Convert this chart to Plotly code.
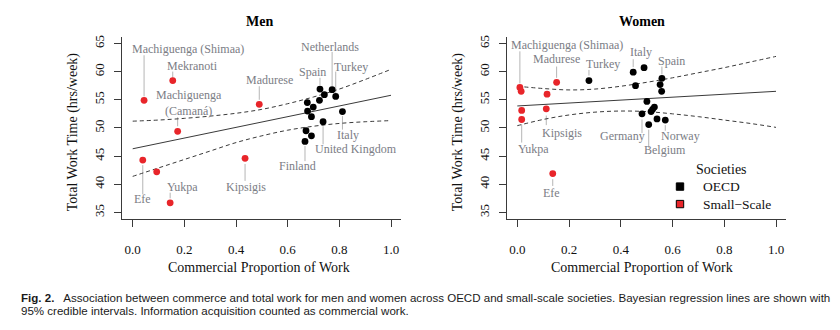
import plotly.graph_objects as go

# ---------------- data ----------------
grid_x = [0.0, 0.1, 0.2, 0.3, 0.4, 0.5, 0.6, 0.7, 0.8, 0.9, 1.0]
tick_x = [0.0, 0.2, 0.4, 0.6, 0.8, 1.0]
tick_x_text = ["0.0", "0.2", "0.4", "0.6", "0.8", "1.0"]
tick_y = [35, 40, 45, 50, 55, 60, 65]

# Men
men_small_x = [0.044, 0.155, 0.174, 0.490, 0.039, 0.093, 0.145, 0.435]
men_small_y = [54.9, 58.4, 49.4, 54.2, 44.3, 42.2, 36.7, 44.6]
men_oecd_x = [0.725, 0.772, 0.742, 0.786, 0.723, 0.676, 0.699, 0.677, 0.812, 0.692, 0.737, 0.671, 0.692, 0.667]
men_oecd_y = [56.9, 56.8, 55.9, 55.6, 54.9, 54.5, 53.7, 53.0, 52.9, 52.0, 51.1, 49.5, 48.6, 47.6]
men_mean = [46.3, 47.25, 48.2, 49.15, 50.1, 51.05, 52.0, 52.95, 53.9, 54.85, 55.8]
men_upper = [51.2, 51.4, 51.7, 52.1, 52.6, 53.3, 54.3, 55.5, 56.9, 58.6, 60.4]
men_lower = [41.4, 42.9, 44.4, 45.9, 47.4, 48.6, 49.6, 50.3, 50.8, 51.1, 51.3]

men_labels = ["Machiguenga (Shimaa)", "Mekranoti", "Machiguenga<br>(Camaná)", "Madurese", "Efe",
              "Yukpa", "Kipsigis", "Netherlands", "Spain", "Turkey", "Italy", "United Kingdom", "Finland"]
men_label_x = [0.215, 0.230, 0.218, 0.528, 0.037, 0.191, 0.437, 0.765, 0.697, 0.844, 0.834, 0.865, 0.639]
men_label_y = [64.1, 61.06, 54.4, 58.5, 37.3, 39.6, 39.6, 64.3, 60.0, 60.9, 48.8, 46.3, 43.2]
men_lead_x = [0.044, 0.155, 0.174, 0.490, 0.039, 0.145, 0.435, 0.772, 0.725, 0.786, 0.812, 0.737, 0.667]
men_lead_y0 = [62.9, 60.0, 51.9, 57.4, 43.4, 38.5, 43.6, 63.5, 58.9, 60.0, 52.1, 50.3, 46.8]
men_lead_y1 = [55.6, 58.9, 50.3, 55.0, 38.2, 37.5, 40.6, 57.4, 57.6, 56.2, 49.7, 47.1, 44.1]

# Women
women_small_x = [0.010, 0.015, 0.152, 0.115, 0.017, 0.112, 0.017, 0.137]
women_small_y = [57.2, 56.5, 58.1, 56.0, 53.1, 53.4, 51.5, 41.9]
women_oecd_x = [0.277, 0.448, 0.490, 0.457, 0.559, 0.552, 0.558, 0.501, 0.530, 0.523, 0.517, 0.482, 0.540, 0.508, 0.572]
women_oecd_y = [58.4, 59.9, 60.7, 57.5, 58.8, 57.7, 56.5, 54.7, 53.7, 53.3, 52.9, 52.5, 51.6, 50.6, 51.4]
women_mean = [53.9, 54.16, 54.42, 54.68, 54.94, 55.2, 55.46, 55.72, 55.98, 56.24, 56.5]
women_upper = [57.4, 57.0, 56.75, 56.9, 57.4, 58.1, 58.9, 59.8, 60.7, 61.7, 62.7]
women_lower = [50.4, 51.5, 52.3, 52.8, 53.0, 52.9, 52.5, 52.0, 51.4, 50.8, 50.1]

women_labels = ["Machiguenga (Shimaa)", "Madurese", "Turkey", "Italy", "Spain", "Kipsigis",
                "Yukpa", "Efe", "Germany", "Belgium", "Norway"]
women_label_x = [0.191, 0.151, 0.330, 0.478, 0.597, 0.174, 0.062, 0.133, 0.406, 0.571, 0.631]
women_label_y = [64.7, 62.2, 61.4, 63.4, 61.9, 49.1, 46.2, 38.5, 48.6, 46.0, 48.6]
women_lead_x = [0.010, 0.152, 0.277, 0.448, 0.559, 0.112, 0.017, 0.137, 0.482, 0.508, 0.572]
women_lead_y0 = [63.6, 60.9, 60.3, 62.2, 60.9, 52.2, 50.6, 40.9, 51.5, 49.7, 50.5]
women_lead_y1 = [57.9, 58.9, 59.3, 60.8, 59.5, 50.5, 47.4, 39.7, 49.1, 46.5, 49.5]

legend_title = "Societies"
legend_names = ["OECD", "Small\u2212Scale"]
legend_colors = ["#000000", "#E8252A"]

# ---------------- styling ----------------
W, H = 840, 330
SERIF = "Liberation Serif, Times New Roman, serif"
RED = "#E8252A"
LABEL_GRAY = "#7b7d85"
LEAD_GRAY = "#b5b5b5"
LINE_COL = "#3a3a3a"

fig = go.Figure()

panels = [
    ("x", "y", men_small_x, men_small_y, men_oecd_x, men_oecd_y, men_mean, men_upper, men_lower),
    ("x2", "y2", women_small_x, women_small_y, women_oecd_x, women_oecd_y, women_mean, women_upper, women_lower),
]
for xa, ya, sx, sy, ox, oy, mean, up, lo in panels:
    fig.add_trace(go.Scatter(x=grid_x, y=mean, mode="lines", xaxis=xa, yaxis=ya,
                             line=dict(color=LINE_COL, width=1), showlegend=False, hoverinfo="skip"))
    for band in (up, lo):
        fig.add_trace(go.Scatter(x=grid_x, y=band, mode="lines", xaxis=xa, yaxis=ya,
                                 line=dict(color=LINE_COL, width=1, dash="4px,3px", shape="spline"),
                                 showlegend=False, hoverinfo="skip"))
    fig.add_trace(go.Scatter(x=ox, y=oy, mode="markers", xaxis=xa, yaxis=ya,
                             marker=dict(color="#000000", size=6.8, line=dict(width=0)),
                             showlegend=False, name="OECD"))
    fig.add_trace(go.Scatter(x=sx, y=sy, mode="markers", xaxis=xa, yaxis=ya,
                             marker=dict(color=RED, size=6.8, line=dict(width=0)),
                             showlegend=False, name="Small-Scale"))

shapes = []
annotations = []
for xref, yref, labels, lx, ly, ldx, ly0, ly1 in [
    ("x", "y", men_labels, men_label_x, men_label_y, men_lead_x, men_lead_y0, men_lead_y1),
    ("x2", "y2", women_labels, women_label_x, women_label_y, women_lead_x, women_lead_y0, women_lead_y1),
]:
    for t, x, y in zip(labels, lx, ly):
        annotations.append(dict(text=t, x=x, y=y, xref=xref, yref=yref, showarrow=False,
                                xanchor="center", yanchor="middle",
                                font=dict(family=SERIF, size=12, color=LABEL_GRAY)))
    for x, y0, y1 in zip(ldx, ly0, ly1):
        shapes.append(dict(type="line", xref=xref, yref=yref, x0=x, x1=x, y0=y0, y1=y1,
                           line=dict(color=LEAD_GRAY, width=1), layer="below"))


def paper(px, py):
    return px / W, 1 - py / H


def text_at(txt, px, py, size, color="#111", family=SERIF, angle=0, xanchor="center"):
    x, y = paper(px, py)
    annotations.append(dict(text=txt, x=x, y=y, xref="paper", yref="paper", showarrow=False,
                            xanchor=xanchor, yanchor="middle", textangle=angle,
                            font=dict(family=family, size=size, color=color)))


# titles
text_at("<b>Men</b>", 259, 19.5, 14, "#000")
text_at("<b>Women</b>", 642, 19.5, 14, "#000")
for px in (259, 641.7):
    text_at("Commercial Proportion of Work", px, 267, 14)
for px in (73.3, 458.3):
    text_at("Total Work Time (hrs/week)", px, 130.7, 14, angle=-90)

# manual legend
text_at(legend_title, 721, 168.3, 14)
for i, (name, col) in enumerate(zip(legend_names, legend_colors)):
    cy = 185.7 + i * 17.6
    shapes.append(dict(type="rect", xref="paper", yref="paper",
                       x0=(680 - 3.7) / W, x1=(680 + 3.7) / W,
                       y0=1 - (cy + 3.7) / H, y1=1 - (cy - 3.7) / H,
                       fillcolor=col, line=dict(color="#000", width=1)))
    text_at(name, 700.5, cy, 13.5, xanchor="left")

# caption
cap1 = ("<b>Fig. 2.</b>\u00a0\u00a0 Association between commerce and total work for men and women across OECD "
        "and small-scale societies. Bayesian regression lines are shown with")
cap2 = "95% credible intervals. Information acquisition counted as commercial work."
text_at(cap1, 19, 297.5, 11.55, "#1a1a1a", "Liberation Sans, Arial, sans-serif", xanchor="left")
text_at(cap2, 19, 311, 11.55, "#1a1a1a", "Liberation Sans, Arial, sans-serif", xanchor="left")

axis_common = dict(showgrid=False, zeroline=False, showline=True, linecolor=LINE_COL, linewidth=1,
                   ticks="outside", ticklen=7, tickcolor=LINE_COL, tickwidth=1,
                   tickfont=dict(family=SERIF, size=13, color="#111"))
xr = [-0.04, 1.04]
yr = [33.8, 66.2]
ydom = [1 - 218.5 / H, 1 - 34.9 / H]

fig.update_layout(
    width=W, height=H, margin=dict(l=0, r=0, t=0, b=0),
    paper_bgcolor="white", plot_bgcolor="white", showlegend=False,
    xaxis=dict(domain=[122.37 / W, 401.33 / W], range=xr, tickvals=tick_x, ticktext=tick_x_text,
               anchor="y", ticklabelstandoff=11, **axis_common),
    yaxis=dict(domain=ydom, range=yr, tickvals=tick_y, tickangle=-90, anchor="x",
               ticklabelstandoff=5, **axis_common),
    xaxis2=dict(domain=[506.95 / W, 786.35 / W], range=xr, tickvals=tick_x, ticktext=tick_x_text,
                anchor="y2", ticklabelstandoff=11, **axis_common),
    yaxis2=dict(domain=ydom, range=yr, tickvals=tick_y, tickangle=-90, anchor="x2",
                ticklabelstandoff=5, **axis_common),
    shapes=shapes, annotations=annotations,
)

fig.write_html("out.html")
